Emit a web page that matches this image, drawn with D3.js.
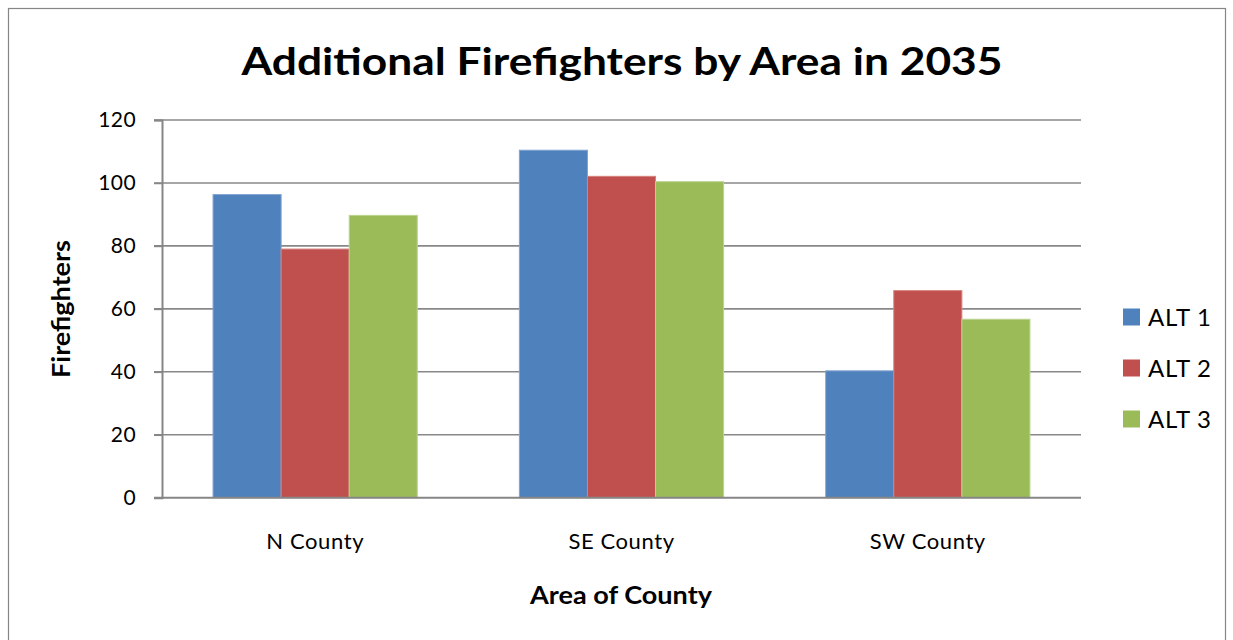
<!DOCTYPE html>
<html><head><meta charset="utf-8">
<script src="https://cdn.jsdelivr.net/npm/d3@7"></script>
<style>body{margin:0;background:#fff}svg{display:block}</style>
</head><body>
<svg id="c" width="1233" height="640"></svg>
<script>
const categories = ["N County", "SE County", "SW County"];
const seriesNames = ["ALT 1", "ALT 2", "ALT 3"];
const alt1 = [96.3, 110.4, 40.3];
const alt2 = [79.0, 102.1, 65.8];
const alt3 = [89.7, 100.4, 56.7];
const yTicks = [0, 20, 40, 60, 80, 100, 120];
const colors = ["#4F81BD", "#C0504D", "#9BBB59"];
const strokes = ["#7FA3D0", "#D6827F", "#BBD48D"];

const series = [alt1, alt2, alt3];
const svg = d3.select("#c");
const font = "Lato, 'Open Sans', sans-serif";

svg.append("rect").attr("x", 8.5).attr("y", 8.5).attr("width", 1217).attr("height", 700)
  .attr("fill", "#fff").attr("stroke", "#868686").attr("stroke-width", 1.2);

const L = 162, R = 1081, T = 120, B = 497.7;
const x = d3.scaleBand().domain(categories).range([L, R]).paddingInner(0.3333).paddingOuter(0.16667);
const y = d3.scaleLinear().domain([0, 120]).range([B, T]);
const xs = d3.scaleBand().domain(seriesNames).range([0, x.bandwidth()]);

// gridlines
svg.append("g").selectAll("line").data(yTicks.filter(d => d > 0)).join("line")
  .attr("x1", 154).attr("x2", R).attr("y1", d => y(d)).attr("y2", d => y(d))
  .attr("stroke", "#888").attr("stroke-width", 1.6);

// bars
categories.forEach((c, i) => {
  seriesNames.forEach((s, j) => {
    svg.append("rect")
      .attr("x", x(c) + xs(s)).attr("width", xs.bandwidth())
      .attr("y", y(series[j][i])).attr("height", B - y(series[j][i]))
      .attr("fill", colors[j]).attr("stroke", strokes[j]).attr("stroke-width", 1);
  });
});

// axes
const yAxis = d3.axisLeft(y).tickValues(yTicks).tickSize(8).tickPadding(18);
const gy = svg.append("g").attr("transform", `translate(${L},0)`).call(yAxis);
gy.select(".domain").attr("stroke", "#868686").attr("stroke-width", 2);
gy.selectAll(".tick line").attr("stroke", "#868686").attr("stroke-width", 1.6);
gy.selectAll(".tick text").attr("font-family", font).attr("font-size", 21)
  .attr("letter-spacing", 0.4).attr("fill", "#000");

svg.append("line").attr("x1", 154).attr("x2", R).attr("y1", B).attr("y2", B)
  .attr("stroke", "#868686").attr("stroke-width", 2);

const gx = svg.append("g").attr("transform", `translate(0,${B})`)
  .call(d3.axisBottom(x).tickSize(0).tickPadding(36));
gx.select(".domain").remove();
gx.selectAll(".tick text").attr("font-family", font).attr("font-size", 22)
  .attr("letter-spacing", 0.6).attr("fill", "#000");

// titles
svg.append("text").attr("x", 622).attr("y", 75).attr("text-anchor", "middle")
  .attr("font-family", font).attr("font-weight", "bold").attr("font-size", 38)
  .attr("textLength", 761).attr("lengthAdjust", "spacingAndGlyphs")
  .text("Additional Firefighters by Area in 2035");
svg.append("text").attr("x", 621).attr("y", 604).attr("text-anchor", "middle")
  .attr("font-family", font).attr("font-weight", "bold").attr("font-size", 24)
  .attr("textLength", 182).attr("lengthAdjust", "spacingAndGlyphs")
  .text("Area of County");
svg.append("text").attr("transform", "translate(70,309) rotate(-90)").attr("text-anchor", "middle")
  .attr("font-family", font).attr("font-weight", "bold").attr("font-size", 24)
  .attr("textLength", 138).attr("lengthAdjust", "spacingAndGlyphs")
  .text("Firefighters");

// legend
const lg = svg.append("g");
seriesNames.forEach((s, j) => {
  const cy = 317 + j * 51;
  lg.append("rect").attr("x", 1123).attr("y", cy - 8.5).attr("width", 17).attr("height", 17).attr("fill", colors[j]);
  lg.append("text").attr("x", 1148).attr("y", cy + 8.5).attr("font-family", font).attr("font-size", 24)
    .attr("letter-spacing", 0.8).attr("fill", "#000").text(s);
});
</script>
</body></html>
